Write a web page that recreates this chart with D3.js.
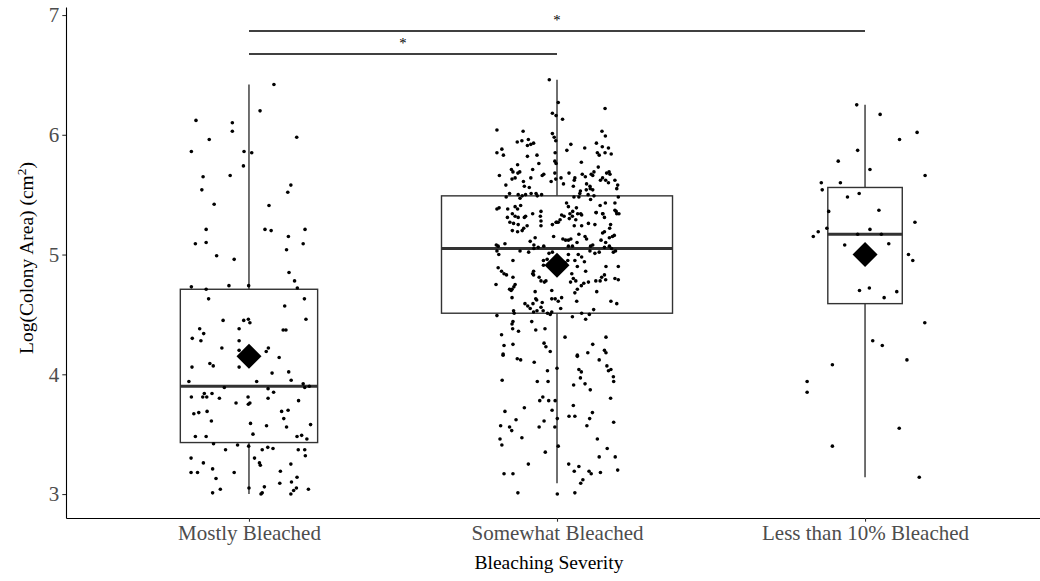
<!DOCTYPE html>
<html>
<head>
<meta charset="utf-8">
<script src="https://cdn.jsdelivr.net/npm/d3@7"></script>
<style>
  body { margin: 0; background: #fff; }
  text { font-family: "Liberation Serif", "Times New Roman", serif; }
</style>
</head>
<body>
<script>
// categories and summary stats
var categories = ["Mostly Bleached", "Somewhat Bleached", "Less than 10% Bleached"];
var sampleSizes = [136, 385, 40];
var q1 = [3.43, 4.51, 4.59];
var medians = [3.90, 5.05, 5.17];
var q3 = [4.71, 5.49, 5.56];
var whiskerLow = [3.00, 3.09, 3.14];
var whiskerHigh = [6.42, 6.46, 6.25];
var means = [4.15, 4.91, 5.00];
var yTicks = [3, 4, 5, 6, 7];

// significance brackets
var comparisons = [
  {from: 0, to: 1, level: 6.675, label: "*"},
  {from: 0, to: 2, level: 6.866, label: "*"}
];

// jittered observations: [offset in category units, log area]
var mostlyPts = [[0.081,6.42],[0.036,6.20],[-0.172,6.12],[-0.054,6.10],[-0.054,6.03],[-0.129,5.96],[0.155,5.98],[-0.187,5.86],[-0.016,5.86],[0.009,5.85],[-0.018,5.74],[-0.149,5.65],[-0.061,5.66],[0.136,5.58],[-0.153,5.54],[0.126,5.52],[-0.113,5.42],[0.065,5.41],[-0.139,5.21],[0.052,5.21],[0.072,5.20],[0.182,5.21],[0.128,5.15],[-0.174,5.09],[-0.139,5.10],[0.176,5.09],[0.122,5.04],[-0.105,4.99],[-0.048,4.96],[0.130,4.85],[0.148,4.78],[-0.187,4.73],[-0.139,4.71],[-0.065,4.74],[-0.001,4.74],[0.157,4.72],[0.180,4.63],[-0.131,4.63],
  [0.116,4.57],[0.185,4.46],[-0.084,4.45],[-0.017,4.45],[-0.002,4.46],[0.003,4.43],[-0.032,4.38],[-0.160,4.38],[-0.147,4.34],[0.111,4.37],[0.120,4.37],[-0.184,4.30],[-0.156,4.28],[-0.032,4.28],[-0.088,4.22],[-0.032,4.20],[0.063,4.22],[0.056,4.19],[0.098,4.14],[-0.127,4.09],[-0.116,4.07],[-0.185,4.06],[-0.032,4.06],[0.129,4.02],[0.075,4.01],[-0.195,3.94],[0.025,3.94],[0.137,3.95],[0.176,3.92],[0.181,3.89],[0.196,3.90],[-0.080,3.89],[0.062,3.88],[0.080,3.85],[-0.145,3.84],[-0.137,3.81],[-0.120,3.84],[-0.187,3.81],[-0.150,3.81],[-0.096,3.80],[-0.003,3.81],[0.062,3.80],[0.161,3.78],[-0.042,3.76],[-0.002,3.75],[0.003,3.76],[-0.179,3.67],[-0.163,3.68],[-0.136,3.69],[0.106,3.69],[0.127,3.70],[-0.122,3.61],[0.113,3.63],[0.005,3.59],[0.122,3.56],[0.057,3.57],[0.200,3.58],[0.013,3.50],[-0.174,3.48],[-0.139,3.48],[0.156,3.48],[0.171,3.49],[0.188,3.46],[-0.115,3.42],[-0.076,3.37],[-0.037,3.41],[-0.001,3.40],[0.043,3.37],[0.061,3.39],[0.078,3.38],[0.160,3.37],[0.181,3.37],[0.183,3.32],[-0.188,3.30],[-0.148,3.26],[0.018,3.30],[0.034,3.26],[0.037,3.24],[0.136,3.25],[-0.118,3.21],[-0.188,3.18],[-0.167,3.18],[-0.048,3.18],[0.102,3.19],[0.156,3.14],[-0.107,3.13],[0.100,3.09],[0.138,3.10],[0.000,3.05],[0.050,3.06],[0.039,3.00],[0.043,3.01],[0.145,3.03],[0.154,3.05],[0.136,3.00],[0.193,3.04],[-0.093,3.04],[-0.118,3.01]];

var somewhatPts = [[-0.025,6.46],[0.004,6.27],[-0.015,6.18],[-0.003,6.16],[-0.195,6.04],[-0.110,6.03],[-0.015,6.01],[-0.009,5.98],[-0.004,5.95],[-0.129,5.94],[-0.114,5.95],[-0.093,5.96],[-0.076,5.93],[-0.096,5.91],[-0.085,5.92],[-0.179,5.88],[-0.195,5.85],[-0.174,5.83],[-0.096,5.82],[-0.065,5.83],[-0.006,5.85],[-0.128,5.75],[-0.059,5.76],[-0.007,5.78],[-0.003,5.76],[-0.148,5.71],[-0.143,5.69],[-0.121,5.69],[-0.127,5.68],[-0.079,5.71],[-0.187,5.66],[-0.043,5.67],[-0.048,5.66],[-0.007,5.68],[-0.146,5.63],[-0.136,5.64],[-0.085,5.64],[-0.019,5.61],[-0.004,5.63],[-0.109,5.61],[-0.106,5.57],[-0.090,5.56],[-0.166,5.58],[-0.154,5.51],[-0.165,5.48],[-0.126,5.50],[-0.113,5.49],[-0.120,5.47],[-0.102,5.50],[-0.084,5.51],[-0.068,5.51],[-0.064,5.49],[-0.050,5.50],[-0.195,5.38],[-0.188,5.39],[-0.160,5.38],[-0.136,5.40],[-0.128,5.38],[-0.118,5.41],[-0.145,5.34],[-0.079,5.34],[-0.052,5.36],
  [0.018,6.13],[0.156,6.22],[0.146,6.03],[0.157,5.99],[0.128,5.93],[0.045,5.92],[0.032,5.87],[0.090,5.89],[0.147,5.90],[0.167,5.89],[0.131,5.85],[0.137,5.83],[0.156,5.85],[0.176,5.84],[0.079,5.77],[0.134,5.73],[0.039,5.68],[0.082,5.67],[0.092,5.65],[0.111,5.67],[0.120,5.69],[0.116,5.66],[0.161,5.68],[0.169,5.69],[0.172,5.67],[0.148,5.64],[0.158,5.62],[0.167,5.60],[0.058,5.64],[0.056,5.62],[0.013,5.64],[0.021,5.59],[0.141,5.62],[0.188,5.62],[0.096,5.59],[0.107,5.57],[0.053,5.57],[0.197,5.58],[0.194,5.55],[0.095,5.54],[0.108,5.55],[0.116,5.54],[0.076,5.53],[0.074,5.51],[0.101,5.50],[0.120,5.49],[0.055,5.48],[0.071,5.48],[0.109,5.46],[0.199,5.48],[0.188,5.43],[0.031,5.43],[0.037,5.40],[0.063,5.39],[0.140,5.41],[0.157,5.43],[0.051,5.36],[0.077,5.34],[0.127,5.35],[0.149,5.34],[0.188,5.37],[0.194,5.34],
  [-0.126,5.31],[-0.136,5.32],[-0.161,5.31],[-0.102,5.32],[-0.106,5.31],[-0.054,5.32],[-0.052,5.28],[-0.153,5.27],[-0.141,5.26],[-0.126,5.25],[-0.097,5.24],[-0.108,5.22],[-0.015,5.25],[-0.003,5.27],[0.004,5.27],[-0.052,5.24],[-0.145,5.20],[-0.128,5.19],[-0.113,5.20],[-0.071,5.14],[-0.011,5.15],[-0.087,5.11],[-0.075,5.08],[-0.197,5.08],[-0.191,5.07],[-0.169,5.09],[-0.043,5.07],[-0.195,5.03],[-0.189,5.00],[-0.120,5.03],[-0.092,5.02],[-0.075,5.05],[-0.061,5.06],[-0.026,5.01],[-0.015,5.02],[-0.032,4.96],[-0.044,4.95],[-0.143,4.95],[-0.044,4.91],[-0.191,4.89],[-0.076,4.86],[-0.180,4.86],[-0.172,4.84],[-0.164,4.83],[-0.058,4.81],[-0.052,4.78],[-0.041,4.77],[-0.036,4.78],[-0.079,4.84],[-0.076,4.83],[-0.143,4.81],[-0.198,4.75],[-0.136,4.75],[-0.140,4.73],[-0.154,4.71],[-0.149,4.70],[-0.146,4.71],[-0.017,4.70],[-0.071,4.69],[-0.146,4.64],[-0.069,4.63],[-0.066,4.62],[-0.017,4.63],[-0.006,4.63],[-0.048,4.60],[-0.104,4.59],[-0.095,4.57],[-0.087,4.55],[-0.078,4.59],[-0.052,4.56],[-0.045,4.53],[-0.065,4.53],[-0.076,4.52],[-0.141,4.53],[-0.139,4.51],[-0.031,4.51],[-0.022,4.50],[-0.017,4.52],[-0.195,4.49],[-0.143,4.44],[-0.146,4.42],[-0.082,4.44],[-0.144,4.38],[-0.125,4.36],[-0.069,4.37],[-0.039,4.38],[-0.180,4.33],[-0.042,4.26],[-0.036,4.23],[-0.172,4.24],[-0.143,4.25],[-0.175,4.17],[-0.022,4.19],
  [0.015,5.33],[0.023,5.32],[0.042,5.34],[0.050,5.32],[0.040,5.30],[-0.001,5.27],[0.010,5.29],[0.061,5.29],[0.080,5.33],[0.067,5.34],[0.127,5.35],[0.148,5.34],[0.154,5.31],[0.192,5.36],[0.201,5.34],[0.056,5.24],[0.080,5.24],[0.102,5.26],[0.123,5.25],[0.174,5.25],[0.171,5.22],[0.071,5.17],[0.154,5.19],[0.148,5.18],[0.019,5.13],[0.028,5.12],[0.037,5.12],[0.045,5.13],[0.091,5.15],[0.096,5.13],[0.065,5.10],[0.143,5.12],[0.158,5.10],[0.180,5.15],[0.186,5.16],[0.170,5.14],[0.116,5.08],[0.109,5.07],[0.037,5.07],[0.050,5.07],[0.154,5.06],[0.170,5.07],[0.177,5.05],[0.190,5.03],[0.183,5.02],[0.107,5.03],[0.123,5.01],[0.137,5.02],[0.069,5.00],[0.080,4.98],[0.037,5.00],[0.058,4.95],[0.089,4.94],[0.035,4.95],[0.026,4.93],[0.159,4.90],[0.199,4.90],[0.066,4.90],[0.093,4.86],[0.048,4.84],[0.053,4.80],[0.044,4.77],[0.061,4.78],[0.154,4.83],[0.145,4.81],[0.140,4.78],[0.158,4.79],[0.126,4.78],[0.188,4.80],[0.199,4.79],[0.102,4.77],[0.087,4.76],[0.079,4.74],[0.066,4.71],[0.058,4.68],[0.129,4.69],[0.015,4.64],[0.004,4.61],[0.064,4.61],[0.175,4.61],[0.194,4.59],[0.012,4.55],[0.119,4.54],[0.080,4.51],[0.105,4.50],[0.093,4.46],[0.050,4.48],[0.026,4.31],[0.159,4.31],[0.116,4.25],[0.154,4.20],[0.159,4.18],[0.100,4.18],[0.066,4.16],
  [-0.175,4.16],[-0.129,4.13],[-0.118,4.12],[-0.074,4.10],[-0.031,4.03],[0.000,4.05],[-0.178,3.95],[-0.064,3.94],[-0.029,3.94],[-0.046,3.81],[-0.056,3.78],[-0.027,3.78],[-0.006,3.78],[-0.169,3.69],[-0.106,3.72],[-0.016,3.70],[-0.133,3.62],[-0.042,3.61],[0.001,3.63],[-0.183,3.57],[-0.154,3.56],[-0.147,3.53],[-0.058,3.56],[-0.007,3.56],[-0.185,3.46],[-0.114,3.47],[-0.179,3.41],[0.004,3.40],[-0.038,3.35],[-0.093,3.25],[-0.172,3.17],[-0.143,3.17],[-0.127,3.01],[0.001,3.00],
  [0.066,4.15],[0.137,4.12],[0.071,4.04],[0.079,4.02],[0.076,3.97],[0.162,4.07],[0.167,4.03],[0.175,4.04],[0.183,3.98],[0.184,3.94],[0.054,3.91],[0.091,3.92],[0.108,3.87],[0.174,3.80],[0.053,3.74],[0.115,3.68],[0.039,3.65],[0.058,3.65],[0.106,3.63],[0.184,3.60],[0.097,3.57],[0.131,3.46],[0.163,3.38],[0.137,3.31],[0.189,3.31],[0.038,3.25],[0.071,3.23],[0.056,3.19],[0.104,3.19],[0.111,3.17],[0.141,3.18],[0.197,3.20],[0.084,3.12],[0.077,3.09],[0.058,3.01]];

var lessPts = [[-0.027,6.25],[0.049,6.17],[0.169,6.02],[0.112,5.96],[-0.024,5.87],[-0.087,5.78],[0.016,5.71],[0.195,5.66],[-0.142,5.60],[-0.139,5.54],[-0.080,5.60],[-0.019,5.51],[-0.057,5.48],[0.045,5.37],[-0.118,5.36],[0.162,5.27],[-0.124,5.22],[-0.152,5.19],[-0.168,5.15],[0.016,5.21],[-0.024,5.17],[0.053,5.17],[-0.066,5.08],[0.077,5.09],[0.141,5.00],[0.155,4.95],[-0.018,4.70],[0.014,4.72],[0.062,4.64],[0.103,4.69],[0.194,4.43],[0.025,4.28],[0.056,4.24],[0.136,4.12],[-0.106,4.08],[-0.188,3.94],[-0.188,3.85],[0.111,3.55],[-0.106,3.40],[0.176,3.14]];

var groups = [mostlyPts, somewhatPts, lessPts];

var W = 1040, H = 581;
var svg = d3.select("body").append("svg")
  .attr("width", W).attr("height", H)
  .style("background", "#fff");

var x = d3.scaleLinear().domain([-0.594, 2.568]).range([66, 1040]);
var y = d3.scaleLinear().domain([2.8, 7.067]).range([518, 7]);

var maxN = d3.max(sampleSizes);
function boxHalf(i) {
  return 0.75 * Math.sqrt(sampleSizes[i]) / Math.sqrt(maxN) / 2;
}

/* Boxplots */
var boxes = svg.append("g").selectAll("g")
  .data(categories).enter().append("g");

boxes.append("line")
  .attr("x1", function(d, i) { return x(i); })
  .attr("x2", function(d, i) { return x(i); })
  .attr("y1", function(d, i) { return y(q3[i]); })
  .attr("y2", function(d, i) { return y(whiskerHigh[i]); })
  .attr("stroke", "#333").attr("stroke-width", 1.4);
boxes.append("line")
  .attr("x1", function(d, i) { return x(i); })
  .attr("x2", function(d, i) { return x(i); })
  .attr("y1", function(d, i) { return y(q1[i]); })
  .attr("y2", function(d, i) { return y(whiskerLow[i]); })
  .attr("stroke", "#333").attr("stroke-width", 1.4);
boxes.append("rect")
  .attr("x", function(d, i) { return x(i - boxHalf(i)); })
  .attr("width", function(d, i) { return x(i + boxHalf(i)) - x(i - boxHalf(i)); })
  .attr("y", function(d, i) { return y(q3[i]); })
  .attr("height", function(d, i) { return y(q1[i]) - y(q3[i]); })
  .attr("fill", "#fff").attr("stroke", "#333").attr("stroke-width", 1.4);
boxes.append("line")
  .attr("x1", function(d, i) { return x(i - boxHalf(i)); })
  .attr("x2", function(d, i) { return x(i + boxHalf(i)); })
  .attr("y1", function(d, i) { return y(medians[i]); })
  .attr("y2", function(d, i) { return y(medians[i]); })
  .attr("stroke", "#333").attr("stroke-width", 3);

/* Points */
groups.forEach(function(pts, gi) {
  svg.append("g").selectAll("circle")
    .data(pts).enter().append("circle")
    .attr("cx", function(d) { return x(gi + d[0]); })
    .attr("cy", function(d) { return y(d[1]); })
    .attr("r", 1.8)
    .attr("fill", "#000");
});

/* Means */
svg.append("g").selectAll("path")
  .data(means).enter().append("path")
  .attr("d", function(d, i) {
    var cx = x(i), cy = y(d), r = 12.5;
    return "M" + cx + "," + (cy - r) + "L" + (cx + r) + "," + cy +
           "L" + cx + "," + (cy + r) + "L" + (cx - r) + "," + cy + "Z";
  })
  .attr("fill", "#000");

/* Significance bars */
var sig = svg.append("g").selectAll("g").data(comparisons).enter().append("g");
sig.append("line")
  .attr("x1", function(d) { return x(d.from); })
  .attr("x2", function(d) { return x(d.to); })
  .attr("y1", function(d) { return y(d.level); })
  .attr("y2", function(d) { return y(d.level); })
  .attr("stroke", "#000").attr("stroke-width", 1.5);
sig.append("text")
  .attr("x", function(d) { return x((d.from + d.to) / 2); })
  .attr("y", function(d) { return y(d.level) - 6; })
  .attr("text-anchor", "middle")
  .attr("fill", "#000")
  .style("font-size", "14.7px")
  .text(function(d) { return d.label; });

/* Axes */
var yAxis = d3.axisLeft(y).tickValues(yTicks).tickFormat(d3.format("d"))
  .tickSize(3.7).tickSizeOuter(0).tickPadding(3);
var xAxis = d3.axisBottom(x).tickValues([0, 1, 2])
  .tickFormat(function(i) { return categories[i]; })
  .tickSize(3.7).tickSizeOuter(0).tickPadding(3);

var gy = svg.append("g").attr("transform", "translate(66,0)").call(yAxis);
var gx = svg.append("g").attr("transform", "translate(0,518)").call(xAxis);
[gx, gy].forEach(function(g) {
  g.select(".domain").attr("stroke", "#000").attr("stroke-width", 1.1);
  g.selectAll(".tick line").attr("stroke", "#333").attr("stroke-width", 1.1);
  g.selectAll(".tick text")
    .attr("fill", "#4d4d4d")
    .style("font-family", "'Liberation Serif', serif")
    .style("font-size", "21px");
});

svg.append("text")
  .attr("x", 549).attr("y", 569)
  .attr("text-anchor", "middle")
  .attr("fill", "#000")
  .style("font-size", "19.5px")
  .text("Bleaching Severity");

var yl = svg.append("text")
  .attr("transform", "translate(33,258) rotate(-90)")
  .attr("text-anchor", "middle")
  .attr("fill", "#000")
  .style("font-size", "19.5px");
yl.append("tspan").text("Log(Colony Area) (cm");
yl.append("tspan").attr("dy", -7).style("font-size", "13.5px").text("2");
yl.append("tspan").attr("dy", 7).text(")");
</script>
</body>
</html>
